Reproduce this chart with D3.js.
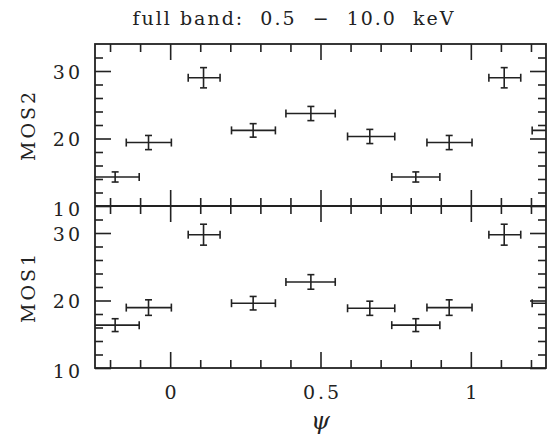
<!DOCTYPE html>
<html><head><meta charset="utf-8">
<script src="https://cdn.jsdelivr.net/npm/d3@7"></script>
<style>
html,body{margin:0;padding:0;background:#fff;}
svg text{font-family:"DejaVu Serif",serif;fill:#222;font-size:19px;letter-spacing:3px;}
</style>
</head><body>
<svg id="c" width="555" height="437"></svg>
<script>
// ---- data ----
const psi    = [-0.183, -0.072, 0.111, 0.276, 0.468, 0.664, 0.817, 0.928, 1.111, 1.276];
const psiLo  = [-0.263, -0.146, 0.060, 0.204, 0.385, 0.590, 0.737, 0.854, 1.060, 1.204];
const psiHi  = [-0.103,  0.004, 0.166, 0.350, 0.549, 0.747, 0.897, 1.004, 1.166, 1.350];
const mos2    = [14.3, 19.4, 29.0, 21.2, 23.7, 20.3, 14.3, 19.4, 29.0, 21.2];
const mos2Err = [0.75, 1.05, 1.5, 1.0, 1.05, 1.05, 0.75, 1.05, 1.5, 1.0];
const mos1    = [16.35, 18.95, 29.75, 19.6, 22.75, 18.85, 16.35, 18.95, 29.75, 19.6];
const mos1Err = [0.95, 1.15, 1.55, 1.0, 1.08, 1.05, 0.95, 1.15, 1.55, 1.0];
const xMajor = [0, 0.5, 1];
const xMinor = [-0.2,-0.1,0.1,0.2,0.3,0.4,0.6,0.7,0.8,0.9,1.1,1.2];
const yMajor = [10, 20, 30];
const yMinor = [12,14,16,18,22,24,26,28,32];
const titleText = "full band: 0.5 − 10.0 keV";

// ---- layout ----
const L = 95, R = 546, T = 44, M = 206, B = 368;
const ink = "#222";
const svg = d3.select("#c");
const x = d3.scaleLinear().domain([-0.25, 1.25]).range([L, R]);
const yTop = d3.scaleLinear().domain([10, 34]).range([M, T]);
const yBot = d3.scaleLinear().domain([10, 34]).range([B, M]);

function styleAxis(g){
  g.select(".domain").remove();
  g.selectAll(".tick line").attr("stroke", ink).attr("stroke-width", 1.6);
}

function panel(y, top, bottom, vals, errs, name, cid){
  // y axes
  const lMaj = svg.append("g").attr("transform",`translate(${L},0)`)
    .call(d3.axisLeft(y).tickValues(yMajor).tickSize(-16).tickPadding(12).tickFormat(d3.format("d")));
  styleAxis(lMaj);
  lMaj.selectAll("text").attr("fill", ink).attr("dy", d => d === 10 ? "0.5em" : "0.38em");
  styleAxis(svg.append("g").attr("transform",`translate(${L},0)`)
    .call(d3.axisLeft(y).tickValues(yMinor).tickSize(-8).tickFormat("")));
  styleAxis(svg.append("g").attr("transform",`translate(${R},0)`)
    .call(d3.axisRight(y).tickValues(yMajor).tickSize(-16).tickFormat("")));
  styleAxis(svg.append("g").attr("transform",`translate(${R},0)`)
    .call(d3.axisRight(y).tickValues(yMinor).tickSize(-8).tickFormat("")));
  // x axes
  styleAxis(svg.append("g").attr("transform",`translate(0,${top})`)
    .call(d3.axisTop(x).tickValues(xMajor).tickSize(-16).tickFormat("")));
  styleAxis(svg.append("g").attr("transform",`translate(0,${top})`)
    .call(d3.axisTop(x).tickValues(xMinor).tickSize(-8).tickFormat("")));
  styleAxis(svg.append("g").attr("transform",`translate(0,${bottom})`)
    .call(d3.axisBottom(x).tickValues(xMajor).tickSize(-16).tickFormat("")));
  styleAxis(svg.append("g").attr("transform",`translate(0,${bottom})`)
    .call(d3.axisBottom(x).tickValues(xMinor).tickSize(-8).tickFormat("")));

  // clip
  svg.append("clipPath").attr("id", cid).append("rect")
    .attr("x", L).attr("y", top).attr("width", R-L).attr("height", bottom-top);
  const g = svg.append("g").attr("clip-path", `url(#${cid})`)
    .attr("stroke", ink).attr("stroke-width", 1.6).attr("fill","none");
  const idx = d3.range(psi.length);
  const pts = g.selectAll("g.pt").data(idx).join("g").attr("class","pt");
  pts.append("line").attr("x1", i=>x(psiLo[i])).attr("x2", i=>x(psiHi[i]))
    .attr("y1", i=>y(vals[i])).attr("y2", i=>y(vals[i]));
  pts.append("line").attr("x1", i=>x(psiLo[i])).attr("x2", i=>x(psiLo[i]))
    .attr("y1", i=>y(vals[i])-4).attr("y2", i=>y(vals[i])+4);
  pts.append("line").attr("x1", i=>x(psiHi[i])).attr("x2", i=>x(psiHi[i]))
    .attr("y1", i=>y(vals[i])-4).attr("y2", i=>y(vals[i])+4);
  pts.append("line").attr("x1", i=>x(psi[i])).attr("x2", i=>x(psi[i]))
    .attr("y1", i=>y(vals[i]-errs[i])).attr("y2", i=>y(vals[i]+errs[i]));
  pts.append("line").attr("x1", i=>x(psi[i])-3.5).attr("x2", i=>x(psi[i])+3.5)
    .attr("y1", i=>y(vals[i]-errs[i])).attr("y2", i=>y(vals[i]-errs[i]));
  pts.append("line").attr("x1", i=>x(psi[i])-3.5).attr("x2", i=>x(psi[i])+3.5)
    .attr("y1", i=>y(vals[i]+errs[i])).attr("y2", i=>y(vals[i]+errs[i]));

  // y title
  svg.append("text").attr("transform", `translate(35,${(top+bottom)/2}) rotate(-90)`)
    .attr("text-anchor","middle").text(name);
}

panel(yTop, T, M, mos2, mos2Err, "MOS2", "clipTop");
panel(yBot, M, B, mos1, mos1Err, "MOS1", "clipBot");

// x tick labels
const xl = svg.append("g").attr("transform",`translate(0,${B})`)
  .call(d3.axisBottom(x).tickValues(xMajor).tickSize(0).tickPadding(18).tickFormat(d3.format("")));
xl.select(".domain").remove();
xl.selectAll("text").attr("fill", ink).attr("dx","1.5px");

// frame
svg.append("rect").attr("x", L).attr("y", T).attr("width", R-L).attr("height", B-T)
  .attr("fill","none").attr("stroke", ink).attr("stroke-width", 1.8);
svg.append("line").attr("x1", L).attr("x2", R).attr("y1", M).attr("y2", M)
  .attr("stroke", ink).attr("stroke-width", 1.8);

// axis title
svg.append("text").attr("x", x(0.5)).attr("y", 429).attr("text-anchor","middle")
  .style("font-style","italic").style("font-size","24px").style("letter-spacing","0px").text("ψ");

// title
svg.append("text").attr("x", 294).attr("y", 25).attr("text-anchor","middle")
  .attr("xml:space","preserve").style("white-space","pre").style("letter-spacing","2px")
  .text(titleText.replace(/ (\d|−|k)/g, "  $1"));
</script>
</body></html>
